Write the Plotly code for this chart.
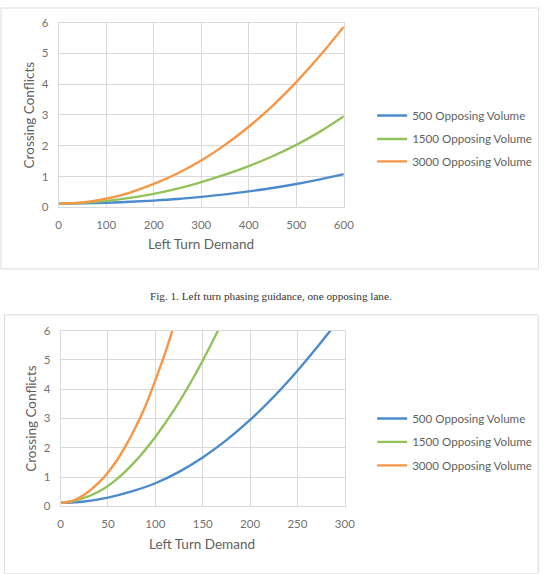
import plotly.graph_objects as go

# ---------------- data ----------------
series_names = ["500 Opposing Volume", "1500 Opposing Volume", "3000 Opposing Volume"]
series_colors = ["#4b8bcb", "#92c25a", "#f79646"]

# Fig. 1 (top): one opposing lane
top_demand = [0, 50, 100, 150, 200, 250, 300, 350, 400, 450, 500, 550, 600]
top_500 = [0.12, 0.13, 0.15, 0.18, 0.22, 0.27, 0.34, 0.42, 0.52, 0.63, 0.76, 0.91, 1.08]
top_1500 = [0.12, 0.15, 0.21, 0.31, 0.44, 0.61, 0.82, 1.06, 1.34, 1.66, 2.03, 2.46, 2.96]
top_3000 = [0.12, 0.16, 0.28, 0.48, 0.76, 1.10, 1.52, 2.03, 2.62, 3.30, 4.07, 4.93, 5.87]

# second chart (bottom)
bot_demand_500 = [0, 25, 50, 75, 100, 125, 150, 175, 200, 225, 250, 275, 300]
bot_500 = [0.12, 0.17, 0.30, 0.51, 0.79, 1.18, 1.67, 2.26, 2.95, 3.74, 4.63, 5.60, 6.62]
bot_demand_1500 = [0, 20, 40, 60, 80, 100, 120, 140, 160, 180]
bot_1500 = [0.12, 0.24, 0.50, 0.95, 1.58, 2.37, 3.30, 4.38, 5.60, 6.95]
bot_demand_3000 = [0, 10, 20, 30, 40, 50, 60, 70, 80, 90, 100, 110, 120, 130]
bot_3000 = [0.12, 0.16, 0.30, 0.52, 0.80, 1.16, 1.60, 2.14, 2.76, 3.46, 4.30, 5.20, 6.20, 7.25]

top_xticks = [0, 100, 200, 300, 400, 500, 600]
bot_xticks = [0, 50, 100, 150, 200, 250, 300]
yticks = [0, 1, 2, 3, 4, 5, 6]

caption = "Fig. 1. Left turn phasing guidance, one opposing lane."
x_title = "Left Turn Demand"
y_title = "Crossing Conflicts"

# ---------------- layout helpers ----------------
W, H = 554, 574
def px_x(p):
    return p / W
def px_y(p):
    return 1 - p / H

FONT = "Lato"
GRID = "#d9d9d9"
TICKC = "#727272"
TITLEC = "#5f5f5f"

fig = go.Figure()

top_sets = [(top_demand, top_500), (top_demand, top_1500), (top_demand, top_3000)]
bot_sets = [(bot_demand_500, bot_500), (bot_demand_1500, bot_1500), (bot_demand_3000, bot_3000)]

legend_rows_top = [111, 135, 158]
legend_rows_bot = [421, 445, 469]

for i, (xs, ys) in enumerate(top_sets):
    fig.add_trace(go.Scatter(
        x=xs, y=ys, mode="lines", name=series_names[i], showlegend=True,
        line=dict(color=series_colors[i], width=2.4, shape="spline", smoothing=1.0),
        xaxis="x", yaxis="y", legend="legend" if i == 0 else f"legend{i+1}",
    ))
for i, (xs, ys) in enumerate(bot_sets):
    fig.add_trace(go.Scatter(
        x=xs, y=ys, mode="lines", name=series_names[i], showlegend=True,
        line=dict(color=series_colors[i], width=2.4, shape="spline", smoothing=1.0),
        xaxis="x2", yaxis="y2", legend=f"legend{i+4}",
    ))

axis_common = dict(
    showgrid=True, gridcolor=GRID, gridwidth=1,
    showline=True, linecolor=GRID, linewidth=1, mirror=True,
    zeroline=False, ticks="", ticklabelstandoff=7,
    tickfont=dict(family=FONT, size=11.5, color=TICKC),
    fixedrange=True,
)

layout = dict(
    width=W, height=H,
    showlegend=True,
    margin=dict(l=0, r=0, t=0, b=0),
    paper_bgcolor="white", plot_bgcolor="white",
    font=dict(family=FONT, color=TITLEC),
    xaxis=dict(domain=[px_x(57), px_x(349)], range=[0, 600], tickvals=top_xticks,
               anchor="y", **axis_common),
    yaxis=dict(domain=[px_y(205), px_y(16)], range=[0, 6], tickvals=yticks,
               anchor="x", **axis_common),
    xaxis2=dict(domain=[px_x(59), px_x(350)], range=[0, 300], tickvals=bot_xticks,
                anchor="y2", **axis_common),
    yaxis2=dict(domain=[px_y(511), px_y(331)], range=[0, 6], tickvals=yticks,
                anchor="x2", **axis_common),
)

legend_common = dict(
    xanchor="left", yanchor="middle", bgcolor="rgba(0,0,0,0)", borderwidth=0,
    font=dict(family=FONT, size=11.6, color=TITLEC), visible=True,
)
for i, row in enumerate(legend_rows_top):
    key = "legend" if i == 0 else f"legend{i+1}"
    layout[key] = dict(x=px_x(378), y=px_y(row), **legend_common)
for i, row in enumerate(legend_rows_bot):
    layout[f"legend{i+4}"] = dict(x=px_x(378), y=px_y(row), **legend_common)

fig.update_layout(**layout)

# axis titles & caption
ann = [
    dict(text=x_title, x=px_x(203), y=px_y(243), xref="paper", yref="paper",
         showarrow=False, font=dict(family=FONT, size=13.5, color=TITLEC),
         xanchor="center", yanchor="middle"),
    dict(text=y_title, x=px_x(26.5), y=px_y(110), xref="paper", yref="paper",
         showarrow=False, textangle=-90, font=dict(family=FONT, size=13.5, color=TITLEC),
         xanchor="center", yanchor="middle"),
    dict(text=x_title, x=px_x(204), y=px_y(549), xref="paper", yref="paper",
         showarrow=False, font=dict(family=FONT, size=13.5, color=TITLEC),
         xanchor="center", yanchor="middle"),
    dict(text=y_title, x=px_x(29), y=px_y(421), xref="paper", yref="paper",
         showarrow=False, textangle=-90, font=dict(family=FONT, size=13.5, color=TITLEC),
         xanchor="center", yanchor="middle"),
    dict(text=caption, x=px_x(274), y=px_y(296), xref="paper", yref="paper",
         showarrow=False, font=dict(family="Liberation Serif", size=11.2, color="#333333"),
         xanchor="center", yanchor="middle"),
]
fig.update_layout(annotations=ann)

# chart frames
fig.add_shape(type="rect", xref="paper", yref="paper",
              x0=px_x(-2), x1=px_x(548.5), y0=px_y(268), y1=px_y(1),
              line=dict(color="#dcdcdc", width=1), fillcolor="rgba(0,0,0,0)", layer="below")
fig.add_shape(type="rect", xref="paper", yref="paper",
              x0=px_x(1.5), x1=px_x(548), y0=px_y(580), y1=px_y(315),
              line=dict(color="#dcdcdc", width=1), fillcolor="rgba(0,0,0,0)", layer="below")

fig.write_html("out.html", config={"displayModeBar": False})
